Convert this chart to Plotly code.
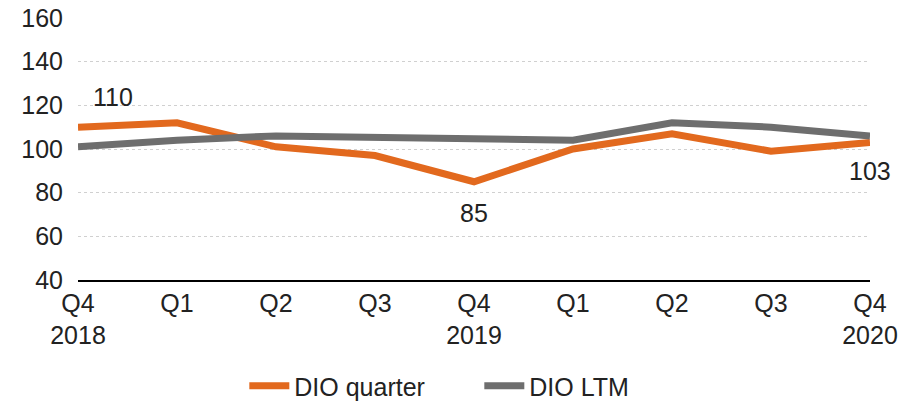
import plotly.graph_objects as go

quarters = ["Q4<br>2018", "Q1", "Q2", "Q3", "Q4<br>2019", "Q1", "Q2", "Q3", "Q4<br>2020"]
dio_quarter = [110, 112, 101, 97, 85, 100, 107, 99, 103]
dio_ltm = [101, 104, 106, 105.5, 105, 104, 112, 110, 106]

x = list(range(len(quarters)))

ORANGE = "#E2691E"
GREY = "#6E6E6E"
FONT = "Liberation Sans, Arial, sans-serif"
FS = 25

fig = go.Figure()
fig.add_trace(go.Scatter(x=x, y=dio_quarter, mode="lines", name="DIO quarter",
                         line=dict(color=ORANGE, width=7)))
fig.add_trace(go.Scatter(x=x, y=dio_ltm, mode="lines", name="DIO LTM",
                         line=dict(color=GREY, width=7)))

# value labels on selected points of the quarterly series
labels = [(0, 35, 30), (4, 0, -31), (8, 0, -29)]
for i, dx, dy in labels:
    fig.add_annotation(x=x[i], y=dio_quarter[i], text=str(dio_quarter[i]),
                       showarrow=False, xshift=dx, yshift=dy,
                       font=dict(size=FS, color="#222222", family=FONT))

fig.update_layout(
    width=904, height=405,
    margin=dict(l=78, r=34, t=18, b=125, autoexpand=False),
    paper_bgcolor="white", plot_bgcolor="white",
    font=dict(family=FONT, size=FS, color="#222222"),
    showlegend=True,
    legend=dict(orientation="h", x=0.21, xanchor="left", y=-0.405, yanchor="middle",
                font=dict(size=FS), itemwidth=40, entrywidth=180, tracegroupgap=0),
)
fig.update_xaxes(range=[0, 8], tickvals=x, ticktext=quarters, showgrid=False,
                 showline=True, linecolor="#000000", linewidth=1.5, ticks="",
                 zeroline=False, tickfont=dict(size=FS), automargin=False)
fig.update_yaxes(range=[40, 160], dtick=20, showgrid=True, gridcolor="#D0D0D0",
                 griddash="dot", gridwidth=1, zeroline=False, showline=False,
                 ticks="", tickfont=dict(size=FS), automargin=False,
                 ticklabelstandoff=14)

fig.write_html("out.html")
